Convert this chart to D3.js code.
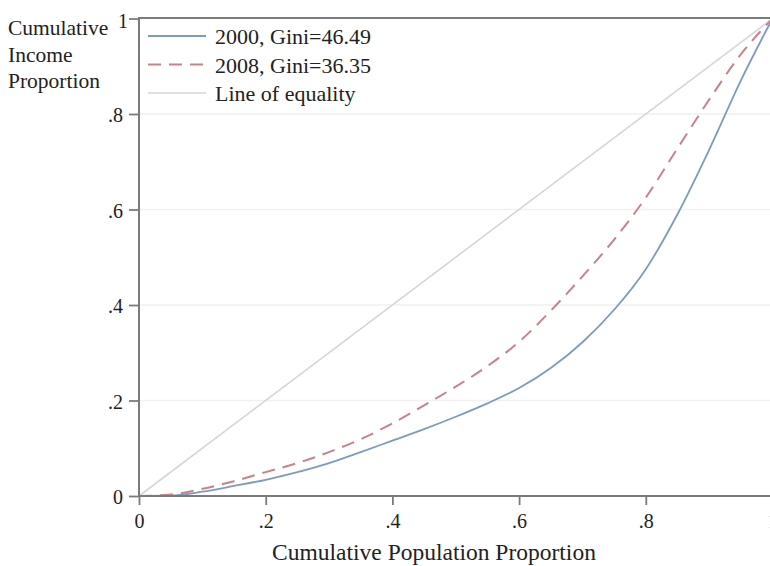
<!DOCTYPE html>
<html>
<head>
<meta charset="utf-8">
<script src="https://cdn.jsdelivr.net/npm/d3@7"></script>
<style>
  html, body { margin: 0; padding: 0; background: #fff; overflow: hidden; }
  svg { display: block; font-family: "Liberation Serif", "Times New Roman", serif; }
</style>
</head>
<body>
<svg id="chart" width="770" height="566"></svg>
<script>
"use strict";

// Cumulative population share (x) and Lorenz curve readings (y)
const popShare = [0, 0.05, 0.1, 0.15, 0.2, 0.25, 0.3, 0.35, 0.4, 0.45, 0.5,
  0.55, 0.6, 0.65, 0.7, 0.75, 0.8, 0.85, 0.9, 0.95, 1];
const income2000 = [0, 0.001, 0.009, 0.021, 0.034, 0.05, 0.069, 0.092, 0.116,
  0.14, 0.166, 0.194, 0.226, 0.268, 0.322, 0.39, 0.475, 0.59, 0.725, 0.87, 1];
const income2008 = [0, 0.003, 0.015, 0.031, 0.05, 0.069, 0.092, 0.119, 0.152,
  0.19, 0.229, 0.272, 0.323, 0.388, 0.46, 0.537, 0.625, 0.728, 0.83, 0.925, 1];
const equality = [0, 1];

const xTicks = [0, 0.2, 0.4, 0.6, 0.8, 1];
const yTicks = [0, 0.2, 0.4, 0.6, 0.8, 1];
const legendLabels = ["2000, Gini=46.49", "2008, Gini=36.35", "Line of equality"];

(function () {
  const svg = d3.select("#chart");
  const x = d3.scaleLinear().domain([0, 1]).range([139, 772.5]);
  const y = d3.scaleLinear().domain([0, 1]).range([496, 18.5]);

  // Stata style tick labels: ".2", "0", "1"
  const fmt = (d) => (d === 0 || d === 1 ? String(d) : d3.format(".1f")(d).replace(/^0/, ""));

  // faint horizontal grid
  svg.append("g")
    .selectAll("line")
    .data(yTicks.filter((d) => d > 0 && d < 1))
    .join("line")
    .attr("x1", x(0))
    .attr("x2", 770)
    .attr("y1", (d) => y(d))
    .attr("y2", (d) => y(d))
    .attr("stroke", "#f1f1f1")
    .attr("stroke-width", 1.5);

  const series = [
    { values: equality, xs: [0, 1], color: "#d6d6d6", width: 1.6, dash: null },
    { values: income2000, xs: popShare, color: "#7b9bc0", width: 1.8, dash: null },
    { values: income2008, xs: popShare, color: "#c9828a", width: 2, dash: "13,8" },
  ];

  const line = d3.line().curve(d3.curveMonotoneX);
  svg.append("g")
    .selectAll("path")
    .data(series)
    .join("path")
    .attr("d", (s) => line(s.values.map((v, i) => [x(s.xs[i]), y(v)])))
    .attr("fill", "none")
    .attr("stroke", (s) => s.color)
    .attr("stroke-width", (s) => s.width)
    .attr("stroke-dasharray", (s) => s.dash);

  // axes
  const axisColor = "#7b7b7b";
  const yAxis = svg.append("g")
    .attr("transform", `translate(${x(0)},0)`)
    .call(d3.axisLeft(y).tickValues(yTicks).tickFormat(fmt).tickSize(10).tickPadding(6));
  const xAxis = svg.append("g")
    .attr("transform", `translate(0,${y(0)})`)
    .call(d3.axisBottom(x).tickValues(xTicks).tickFormat(fmt).tickSize(9).tickPadding(9));
  [yAxis, xAxis].forEach((g) => {
    g.attr("font-family", null).attr("font-size", null);
    g.select(".domain").remove();
    g.selectAll(".tick line").attr("stroke", axisColor).attr("stroke-width", 1.8);
    g.selectAll(".tick text")
      .attr("fill", "#222")
      .attr("font-size", 20)
      .attr("font-family", "'Liberation Serif', serif");
  });
  // y labels sit a touch below their ticks; the top "1" is nudged right
  yAxis.selectAll(".tick text")
    .attr("transform", (d) => (d === 1 ? "translate(5,3)" : "translate(0,1.5)"));

  // frame: left, bottom, top
  svg.append("line").attr("x1", x(0)).attr("x2", x(0)).attr("y1", 17).attr("y2", y(0) + 1)
    .attr("stroke", axisColor).attr("stroke-width", 2);
  svg.append("line").attr("x1", x(0) - 1).attr("x2", 770).attr("y1", y(0)).attr("y2", y(0))
    .attr("stroke", axisColor).attr("stroke-width", 2);
  svg.append("line").attr("x1", x(0) - 1).attr("x2", 770).attr("y1", 18).attr("y2", 18)
    .attr("stroke", axisColor).attr("stroke-width", 2);

  // y title, stacked at the top left
  svg.append("text")
    .attr("fill", "#222")
    .attr("font-size", 21.5)
    .selectAll("tspan")
    .data(["Cumulative", "Income", "Proportion"])
    .join("tspan")
    .attr("x", 8)
    .attr("y", (d, i) => 35 + i * 26.5)
    .text((d) => d);

  // x title
  svg.append("text")
    .attr("x", 434)
    .attr("y", 560)
    .attr("text-anchor", "middle")
    .attr("fill", "#222")
    .attr("font-size", 23.5)
    .text("Cumulative Population Proportion");

  // legend
  const legend = svg.append("g")
    .selectAll("g")
    .data(series.slice(1).concat(series.slice(0, 1)))
    .join("g")
    .attr("transform", (d, i) => `translate(148,${36 + i * 28.5})`);
  legend.append("line")
    .attr("x1", 0)
    .attr("x2", 58)
    .attr("stroke", (s) => s.color)
    .attr("stroke-width", (s) => s.width)
    .attr("stroke-dasharray", (s) => s.dash);
  legend.append("text")
    .attr("x", 67)
    .attr("y", 8)
    .attr("fill", "#222")
    .attr("font-size", 22)
    .text((d, i) => legendLabels[i]);
})();
</script>
</body>
</html>
